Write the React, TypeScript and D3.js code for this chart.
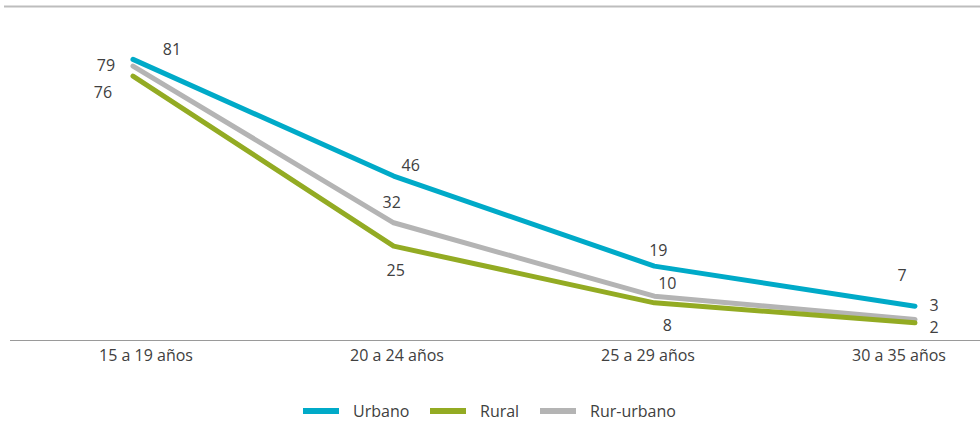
import React from "react";
import * as d3 from "d3";

const categories = ["15 a 19 años", "20 a 24 años", "25 a 29 años", "30 a 35 años"];
const seriesNames = ["Urbano", "Rural", "Rur-urbano"];
const urbano = [81, 46, 19, 7];
const rural = [76, 25, 8, 2];
const rurUrbano = [79, 32, 10, 3];
const colors = ["#00AAC8", "#93AB23", "#B4B4B4"];

// label offsets (dx, dy) relative to points, per series
const labelOffsets = [
  [[39, -10], [17, -11], [4, -16], [-13, -31]],
  [[-30, 16], [2, 24], [13, 22], [19, 4]],
  [[-27, -1], [-2, -21], [13, -13], [19, -14]],
];

const W = 980;
const H = 421;

export default function App() {
  const x = d3.scalePoint<string>().domain(categories).range([133, 915]);
  const xLabel = d3.scalePoint<string>().domain(categories).range([146, 899]);
  const y = d3.scaleLinear().domain([0, 100]).range([329.5, -4]);
  const data = [urbano, rural, rurUrbano];
  const line = d3
    .line<number>()
    .x((_, i) => x(categories[i]) as number)
    .y((d) => y(d));

  const legendX = [303, 430, 540];

  return (
    <svg
      width={W}
      height={H}
      style={{ position: "absolute", left: 0, top: 0, background: "#fff" }}
      fontFamily="'Open Sans', sans-serif"
      fontSize={16}
    >
      <line x1={4} x2={980} y1={6.5} y2={6.5} stroke="#BDBDBD" strokeWidth={2} />
      <line x1={10} x2={980} y1={340.5} y2={340.5} stroke="#9A9A9A" strokeWidth={1} />
      {categories.map((c) => (
        <text key={c} x={xLabel(c)} y={361} textAnchor="middle" fill="#404040">
          {c}
        </text>
      ))}
      {[2, 1, 0].map((si) => (
        <path
          key={si}
          d={line(data[si]) as string}
          fill="none"
          stroke={colors[si]}
          strokeWidth={5}
          strokeLinejoin="round"
          strokeLinecap="round"
        />
      ))}
      {data.map((vals, si) =>
        vals.map((v, i) => (
          <text
            key={si + "-" + i}
            x={(x(categories[i]) as number) + labelOffsets[si][i][0]}
            y={y(v) + labelOffsets[si][i][1]}
            textAnchor="middle"
            dominantBaseline="central"
            fill="#404040"
          >
            {v}
          </text>
        ))
      )}
      {seriesNames.map((n, i) => (
        <g key={n}>
          <rect x={legendX[i]} y={408} width={36} height={6} fill={colors[i]} />
          <text x={legendX[i] + 50} y={411} dominantBaseline="central" fill="#404040">
            {n}
          </text>
        </g>
      ))}
    </svg>
  );
}
